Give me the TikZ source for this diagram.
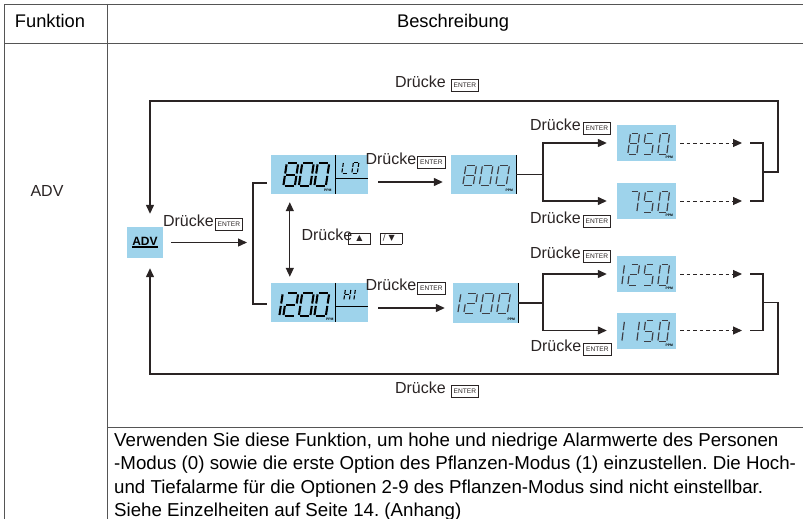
\documentclass[tikz,border=0pt]{standalone}
\usepackage{fontspec}
\setmainfont{Liberation Sans}
\newfontfamily\symfont{DejaVu Sans}
\usetikzlibrary{arrows.meta, positioning, calc}
\frenchspacing
\definecolor{lcdblue}{RGB}{158,211,235}
\definecolor{inkclr}{RGB}{42,36,36}
\definecolor{gridclr}{RGB}{85,85,85}
\definecolor{segclr}{RGB}{62,62,68}
% key caps in the labels
\newcommand\enterkey{{\setlength\fboxsep{1.2pt}\setlength\fboxrule{0.6pt}%
  \fbox{\fontsize{6.6}{6.6}\selectfont\rule[-2.4pt]{0pt}{9.6pt}\,ENTER\,}}}
\newcommand\arrkey[2]{{\setlength\fboxsep{1.1pt}\setlength\fboxrule{0.7pt}%
  \fbox{\makebox[19pt][#1]{\symfont\fontsize{8}{8}\selectfont\rule[-2pt]{0pt}{8pt}#2}}}}
% seven segment digits
\newcommand\defseg[2]{\expandafter\def\csname lcdseg#1\endcsname{#2}}
\defseg{0}{TL/TR,TR/MR,MR/BR,BL/BR,ML/BL,TL/ML}
\defseg{1}{TR/MR,MR/BR}
\defseg{2}{TL/TR,TR/MR,ML/MR,ML/BL,BL/BR}
\defseg{5}{TL/TR,TL/ML,ML/MR,MR/BR,BL/BR}
\defseg{7}{TL/TR,TR/MR,MR/BR}
\defseg{8}{TL/TR,TR/MR,MR/BR,BL/BR,ML/BL,TL/ML,ML/MR}
\defseg{L}{TL/ML,ML/BL,BL/BR}
\defseg{O}{TL/TR,TR/MR,MR/BR,BL/BR,ML/BL,TL/ML}
\defseg{H}{TR/MR,MR/BR,TL/ML,ML/BL,ML/MR}
\defseg{I}{TL/ML,ML/BL}
\newcommand\lcdrow[6]{%
  \foreach \d [count=\i from 0] in {#6} {%
    \if x\d\else
      \pic[#5] at ($(#1.south west)+({#2+\i*#4},-#3)$) {lcddigit=\d};
    \fi
  }}
\tikzset{
  gridline/.style={draw=gridclr, line width=0.9pt},
  conn/.style={draw=inkclr, line width=1.3pt},
  arrow/.style={conn, -{Triangle[length=9pt, width=8pt]}},
  dblarrow/.style={conn, {Triangle[length=9pt, width=8pt]}-{Triangle[length=9pt, width=8pt]}},
  dasharrow/.style={arrow, line width=1pt, dash pattern=on 3.5pt off 3pt},
  lcdbox/.style={rectangle, fill=lcdblue, draw=none, inner sep=0pt},
  lcdedge/.style={draw=black, line width=1.2pt},
  advbox/.style={lcdbox, minimum width=36pt, minimum height=31pt,
              font=\fontsize{12}{12}\selectfont\bfseries},
  lbl/.style={inner sep=0pt, font=\fontsize{16}{18}\selectfont, text=inkclr},
  hdr/.style={inner sep=0pt, anchor=base, font=\fontsize{18.3}{22}\selectfont},
  para/.style={inner sep=0pt, align=left, font=\fontsize{18.7}{23.4}\selectfont},
  ppm/.style={inner sep=0pt, font=\fontsize{3.4}{3.4}\selectfont\bfseries},
  segline/.style={draw=segclr, line width=1.2pt, shorten <=1.2pt, shorten >=1.2pt},
  bolddigits/.style={xscale=1.15, yscale=1.15,
              segline/.append style={draw=black, line width=2.1pt}},
  middigits/.style={xscale=1.05},
  smalldigits/.style={xscale=0.9, yscale=1.05},
  tinydigits/.style={scale=0.55, segline/.append style={draw=black, line width=1.1pt,
              shorten <=0.8pt, shorten >=0.8pt}},
  pics/lcddigit/.style={code={
    \begin{scope}[xslant=0.15]
      \coordinate (sTL) at (0,-20); \coordinate (sTR) at (10,-20);
      \coordinate (sML) at (0,-10); \coordinate (sMR) at (10,-10);
      \coordinate (sBL) at (0,0);   \coordinate (sBR) at (10,0);
    \end{scope}
    \edef\seglist{\csname lcdseg#1\endcsname}
    \foreach \p/\q in \seglist {\draw[segline] (s\p) -- (s\q);}
  }},
}

\begin{document}
\begin{tikzpicture}[x=1pt, y=-1pt]
  \useasboundingbox (0,0) rectangle (803,519);
  % table
  \draw[gridline] (4,519) -- (4,4) -- (803,4);
  \draw[gridline] (4,43) -- (803,43);
  \draw[gridline] (107,4) -- (107,519);
  \draw[gridline] (107,427) -- (803,427);
  \node[hdr] (hfunk) at (50,27.5) {Funktion};
  \node[hdr] (hbes) at (453,27.5) {Beschreibung};
  \node[lbl, anchor=base] (fadv) at (47,196) {ADV};

  % displays
  \node[advbox] (adv) at (145,242.5) {\raisebox{3pt}{ADV}};
  \draw[line width=1.5pt] ([xshift=5pt,yshift=11pt]adv.south west) -- ([xshift=-5pt,yshift=11pt]adv.south east);
  \node[lcdbox, minimum width=97pt, minimum height=39pt] (lo) at (319.5,174.5) {};
  \node[lcdbox, minimum width=97pt, minimum height=39pt] (hi) at (319.5,302.5) {};
  \node[lcdbox, minimum width=65pt, minimum height=39pt] (lo2) at (483.5,174.5) {};
  \node[lcdbox, minimum width=65pt, minimum height=40pt] (hi2) at (485.5,303) {};
  \node[lcdbox, minimum width=59pt, minimum height=36pt] (p850) at (646.5,143) {};
  \node[lcdbox, minimum width=59pt, minimum height=36pt] (p750) at (646.5,201) {};
  \node[lcdbox, minimum width=59pt, minimum height=36pt] (p1250) at (646.5,274) {};
  \node[lcdbox, minimum width=59pt, minimum height=36pt] (p1150) at (646.5,330.5) {};
  \foreach \n in {lo,hi} {
    \draw[lcdedge] ([xshift=65pt]\n.north west) -- ([xshift=65pt]\n.south west);
    \draw[lcdedge] ([xshift=65pt,yshift=-24pt]\n.north west) -- ([yshift=-24pt]\n.north east);
  }
  \draw[lcdedge] (lo2.north east) -- (lo2.south east);
  \draw[lcdedge] (hi2.north east) -- (hi2.south east);

  \lcdrow{lo}{-3}{8}{15.5}{bolddigits}{x,8,0,0}
  \lcdrow{hi}{-3}{6}{15.5}{bolddigits}{1,2,0,0}
  \lcdrow{lo}{71}{21}{10}{tinydigits}{L,O}
  \lcdrow{hi}{73}{22}{10}{tinydigits}{H,I}
  \lcdrow{lo2}{-4.5}{9}{16.5}{middigits}{x,8,0,0}
  \lcdrow{hi2}{-5.5}{10}{16.5}{middigits}{1,2,0,0}
  \lcdrow{p850}{-4}{7}{15}{smalldigits}{x,8,5,0}
  \lcdrow{p750}{-4}{7}{15}{smalldigits}{x,7,5,0}
  \lcdrow{p1250}{-4}{7}{15}{smalldigits}{1,2,5,0}
  \lcdrow{p1150}{-4}{7}{15}{smalldigits}{1,1,5,0}

  \node[ppm] (ppmlo) at ([xshift=57pt,yshift=4pt]lo.south west) {PPM};
  \node[ppm] (ppmhi) at ([xshift=59pt,yshift=3pt]hi.south west) {PPM};
  \foreach \n in {lo2,hi2,p850,p750,p1250,p1150}
    \node[ppm] (ppm\n) at ([xshift=-7pt,yshift=3.5pt]\n.south east) {PPM};

  % labels
  \node[lbl] (lblTop) at (437,84) {Drücke\hspace{5pt}\enterkey};
  \node[lbl] (lblBot) at (437,390) {Drücke\hspace{5pt}\enterkey};
  \node[lbl] (lblAdv) at (203,223) {Drücke\hspace{1pt}\enterkey};
  \node[lbl] (lblLo) at (405.5,161) {Drücke\hspace{1pt}\enterkey};
  \node[lbl] (lblHi) at (405.5,287) {Drücke\hspace{1pt}\enterkey};
  \node[lbl] (lbl850) at (570.5,127) {Drücke\hspace{2pt}\enterkey};
  \node[lbl] (lbl750) at (570.5,220) {Drücke\hspace{2pt}\enterkey};
  \node[lbl] (lbl1250) at (570.5,255) {Drücke\hspace{2pt}\enterkey};
  \node[lbl] (lbl1150) at (571,348) {Drücke\hspace{2pt}\enterkey};
  \node[lbl] (lblKeys) at (352,237) {Drücke\hspace{-4pt}\arrkey{c}{▲}\hspace{9pt}\arrkey{l}{\,/\hspace{3pt}▼}};

  % connectors
  \coordinate (brkL) at (253,243);
  \coordinate (forkx) at (543,0);
  \coordinate (dashend) at (742,0);
  \coordinate (brkR) at (763,0);
  \coordinate (loopNE) at (778,101);
  \coordinate (loopNW) at (150,101);
  \coordinate (loopSE) at (778,374);
  \coordinate (loopSW) at (150,374);
  \path ([yshift=-7.5pt]lo.east) coordinate (loout) ([yshift=-5.5pt]hi.east) coordinate (hiout);

  \draw[arrow, shorten <=8pt, shorten >=6pt] (adv.east) -- (adv.east -| brkL);
  \draw[conn] ([xshift=-4pt,yshift=-8.5pt]lo.west) -| (brkL) |- ([xshift=-4pt,yshift=-1.5pt]hi.west);
  \draw[dblarrow, shorten <=8pt, shorten >=6pt] ([xshift=19pt]lo.south west) -- ([xshift=19pt]hi.north west);
  \draw[arrow, shorten <=10pt, shorten >=8pt] (loout) -- (loout -| lo2.west);
  \draw[arrow, shorten <=10pt, shorten >=8pt] (hiout) -- (hiout -| hi2.west);

  \foreach \src/\up/\dn in {lo2/p850/p750, hi2/p1250/p1150} {
    \draw[conn] (\src.east) -- (\src.east -| forkx);
    \draw[arrow, shorten >=10pt] (\src.east -| forkx) |- (\up.west);
    \draw[arrow, shorten >=10pt] (\src.east -| forkx) |- (\dn.west);
    \draw[dasharrow, shorten <=4pt] (\up.east) -- (\up.east -| dashend);
    \draw[dasharrow, shorten <=4pt] (\dn.east) -- (\dn.east -| dashend);
    \draw[conn] ([xshift=-13pt]\up -| brkR) -- (\up -| brkR) -- (\dn -| brkR) -- ([xshift=-13pt]\dn -| brkR);
  }
  \draw[arrow, shorten >=13pt] ($(p850 -| brkR)!0.5!(p750 -| brkR)$) -| (loopNE) -- (loopNW) -- (loopNW |- adv.north);
  \draw[arrow, shorten >=10pt] ($(p1250 -| brkR)!0.5!(p1150 -| brkR)$) -| (loopSE) -- (loopSW) -- (loopSW |- adv.south);

  % description
  \node[para, anchor=north west] (desc) at (114,432.5) {Verwenden Sie diese Funktion, um hohe und niedrige Alarmwerte des Personen\\-Modus (0) sowie die erste Option des Pflanzen-Modus (1) einzustellen. Die Hoch-\\und Tiefalarme für die Optionen 2-9 des Pflanzen-Modus sind nicht einstellbar.\\Siehe Einzelheiten auf Seite 14. (Anhang)};
\end{tikzpicture}
\end{document}
